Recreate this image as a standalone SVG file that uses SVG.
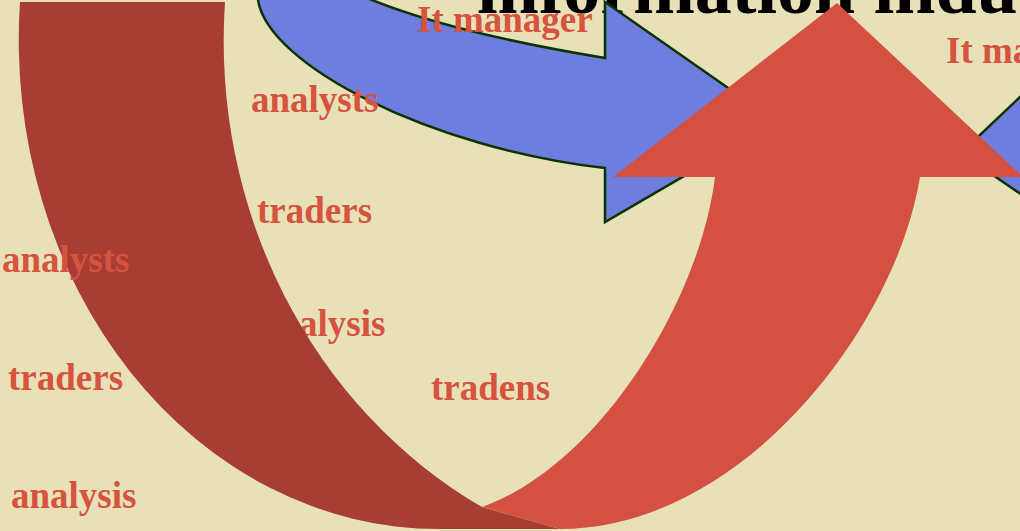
<svg xmlns="http://www.w3.org/2000/svg" width="1020" height="531" viewBox="0 0 1020 531">
<style>
.lbl{font-family:"Liberation Serif","Times New Roman",serif;font-weight:bold;font-size:37px;fill:#d5533f}
.title{font-family:"Liberation Serif","Times New Roman",serif;font-weight:bold;font-size:74px;fill:#000}
.blue{fill:#6f7ddf;stroke:#0b3300;stroke-width:2.5;stroke-linejoin:miter}
</style>
<rect width="1020" height="531" fill="#e8e1b7"/>
<g id="title"><text class="title" x="477" y="13">information industry</text></g>
<g id="connectors">
<g id="blue-arrow-left"><path class="blue" d="M330,-20 C400,20 520,44 605,58 L605,2 L777,122 L605,222 L605,168 C430,148 268,65 258,0 L256,-20 Z"/></g>
<g id="blue-arrow-right"><path class="blue" d="M961,153 L1060,59 L1060,221 Z"/></g>
</g>
<g id="label-analysis-mid"><text class="lbl" x="260" y="336">analysis</text></g>
<g id="u-arrow">
<path fill="#a83e33" d="M20,2 A420,489 0 0 0 438.6,529 L560,529 L482,507 A493,530 0 0 1 225,2 Z"/>
<path fill="#d45141" d="M715,177 L613,177 L837,3 L1023,177 L920,177 C895,330 740,529 560,529 L482,507 C600,465 700,300 715,177 Z"/>
</g>
<g id="labels">
<text class="lbl" x="417" y="32">It manager</text>
<text class="lbl" x="946" y="63">It manager</text>
<text class="lbl" x="251" y="112">analysts</text>
<text class="lbl" x="257" y="223">traders</text>
<text class="lbl" x="2" y="272">analysts</text>
<text class="lbl" x="8" y="390">traders</text>
<text class="lbl" x="431" y="400">tradens</text>
<text class="lbl" x="11" y="508">analysis</text>
</g>
</svg>
